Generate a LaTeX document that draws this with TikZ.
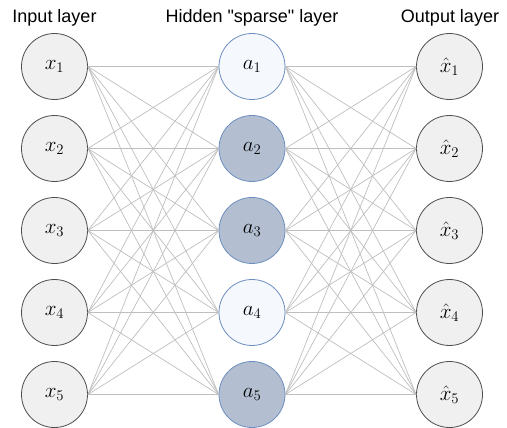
\documentclass[tikz,border=0pt]{standalone}
\usepackage{fix-cm}
\usepackage{fontspec}
\setmainfont{Liberation Sans}[Ligatures=TeXOff]
\definecolor{outfill}{HTML}{F0F0F0}
\definecolor{outdraw}{HTML}{4D4D4D}
\definecolor{hidlight}{HTML}{F5F8FD}
\definecolor{hiddark}{HTML}{B3BFD1}
\definecolor{hiddraw}{HTML}{6C8EBF}
\definecolor{edgecol}{HTML}{BEBEBE}
\begin{document}
\begin{tikzpicture}[x=1pt,y=-1pt,
  neuron/.style={circle,minimum size=66pt,inner sep=0pt,line width=0.8pt,font=\fontsize{21}{25}\selectfont},
  outer/.style={neuron,draw=outdraw,fill=outfill},
  hidon/.style={neuron,draw=hiddraw,fill=hiddark},
  hidoff/.style={neuron,draw=hiddraw,fill=hidlight},
  conn/.style={draw=edgecol,line width=0.7pt},
  title/.style={anchor=base,font=\fontsize{18}{21}\selectfont,inner sep=0pt}]
\useasboundingbox (0,0) rectangle (507,428);
\node[title] (tin) at (54.5,22.7) {Input layer};
\node[title] (thid) at (252,22.7) {Hidden "sparse" layer};
\node[title] (tout) at (450,22.7) {Output layer};
\foreach \i/\y in {1/66.5,2/148.5,3/230.5,4/312.5,5/394.5}{
  \node[outer] (x\i) at (54.5,\y) {$x_{\i}$};
  \node[outer] (o\i) at (449.5,\y) {$\hat{x}_{\i}$};
}
\node[hidoff] (a1) at (252,66.5) {$a_1$};
\node[hidon] (a2) at (252,148.5) {$a_2$};
\node[hidon] (a3) at (252,230.5) {$a_3$};
\node[hidoff] (a4) at (252,312.5) {$a_4$};
\node[hidon] (a5) at (252,394.5) {$a_5$};
\foreach \i in {1,...,5}{
  \foreach \j in {1,...,5}{
    \draw[conn] (x\i.east) -- (a\j.west);
    \draw[conn] (a\i.east) -- (o\j.west);
  }
}
\end{tikzpicture}
\end{document}
